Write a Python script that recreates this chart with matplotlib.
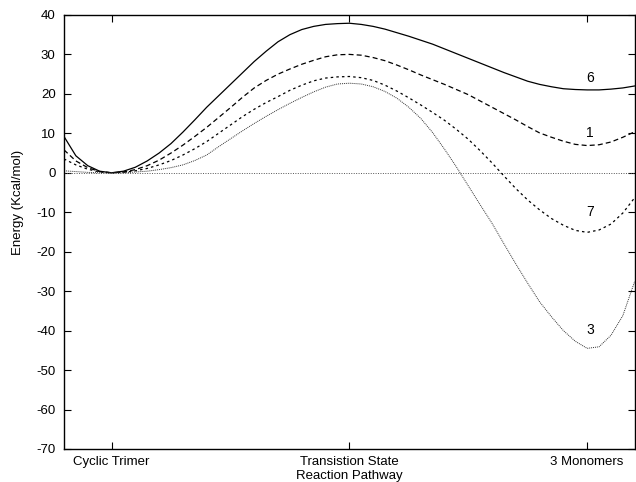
import numpy as np
import matplotlib.pyplot as plt

plt.rcParams['font.family'] = ['Liberation Sans', 'DejaVu Sans']
plt.rcParams['axes.unicode_minus'] = False

# reaction coordinate (0 = cyclic trimer, 1 = transition state, 2 = 3 monomers)
x = [-0.2, -0.15, -0.1, -0.05, 0.0, 0.05, 0.1, 0.15, 0.2, 0.25, 0.3, 0.35,
     0.4, 0.45, 0.5, 0.55, 0.6, 0.65, 0.7, 0.75, 0.8, 0.85, 0.9, 0.95,
     1.0, 1.05, 1.1, 1.15, 1.2, 1.25, 1.3, 1.35, 1.4, 1.45, 1.5, 1.55,
     1.6, 1.65, 1.7, 1.75, 1.8, 1.85, 1.9, 1.95, 2.0, 2.05, 2.1, 2.15, 2.2]

# energies (kcal/mol)
e6 = [9.2, 4.3, 1.8, 0.4, 0.0, 0.4, 1.4, 3.0, 5.0, 7.4, 10.3, 13.4,
      16.6, 19.5, 22.4, 25.3, 28.2, 30.8, 33.2, 35.0, 36.3, 37.1, 37.6, 37.8,
      37.9, 37.6, 37.1, 36.4, 35.5, 34.6, 33.6, 32.6, 31.4, 30.2, 29.0, 27.8,
      26.6, 25.4, 24.3, 23.2, 22.4, 21.8, 21.3, 21.1, 21.0, 21.0, 21.2, 21.5, 22.0]
e1 = [5.8, 3.0, 1.3, 0.3, 0.0, 0.2, 0.8, 1.8, 3.2, 5.0, 7.0, 9.2,
      11.5, 14.0, 16.5, 19.1, 21.5, 23.4, 25.0, 26.3, 27.5, 28.5, 29.4, 29.9,
      30.0, 29.8, 29.2, 28.4, 27.3, 26.1, 24.8, 23.6, 22.4, 21.1, 19.8, 18.2,
      16.6, 15.0, 13.4, 11.7, 10.1, 9.0, 8.0, 7.2, 6.9, 7.1, 7.8, 9.0, 10.4]
e7 = [3.5, 2.0, 0.9, 0.2, 0.0, 0.1, 0.5, 1.1, 2.0, 3.1, 4.5, 6.1,
      7.9, 10.0, 12.1, 14.2, 16.1, 17.8, 19.3, 20.9, 22.2, 23.3, 24.0, 24.3,
      24.4, 24.1, 23.4, 22.2, 20.7, 19.0, 17.2, 15.3, 13.3, 11.0, 8.5, 5.6,
      2.5, -0.8, -4.0, -6.9, -9.4, -11.6, -13.3, -14.6, -15.1, -14.5, -13.0, -10.2, -6.3]
e3 = [0.5, 0.3, 0.1, 0.0, 0.0, 0.0, 0.2, 0.4, 0.8, 1.3, 2.0, 3.1,
      4.5, 6.6, 8.6, 10.6, 12.5, 14.3, 16.0, 17.6, 19.1, 20.5, 21.7, 22.5,
      22.7, 22.5, 21.8, 20.6, 18.9, 16.6, 13.8, 10.2, 6.0, 1.5, -3.3, -8.1,
      -12.8, -18.0, -23.1, -28.0, -32.7, -36.5, -40.0, -42.7, -44.5, -44.1, -41.2, -36.2, -27.5]

labels = ['6', '1', '7', '3']
label_y = [24.0, 10.0, -9.9, -39.8]
stage_pos = [0, 1, 2]
stage_names = ['Cyclic Trimer', 'Transistion State', '3 Monomers']

fig = plt.figure(figsize=(6.36, 4.82), dpi=100)
ax = fig.add_axes([0.1006, 0.0685, 0.8974, 0.9005])

lw = 0.9
ax.axhline(0, color='#555555', lw=0.7, linestyle=(0, (1, 1.5)))
ax.plot(x, e6, color='black', lw=lw, linestyle='-')
ax.plot(x, e1, color='black', lw=lw, linestyle=(0, (4, 2.5)))
ax.plot(x, e7, color='black', lw=lw, linestyle=(0, (2, 2.5)))
ax.plot(x, e3, color='#333333', lw=0.7, linestyle=(0, (1, 1)))

for lab, ly in zip(labels, label_y):
    ax.text(2.013, ly, lab, ha='center', va='center', fontsize=10)

ax.set_xlim(-0.2, 2.2)
ax.set_ylim(-70, 40)
ax.set_yticks(np.arange(-70, 41, 10))
ax.set_xticks(stage_pos)
ax.set_xticklabels(stage_names)
ax.tick_params(direction='in', top=True, right=True, length=5, width=0.8,
               labelsize=9.5, pad=6)
ax.tick_params(axis='x', pad=5)
for s in ax.spines.values():
    s.set_linewidth(1.0)

fig.text(18 / 636, 1 - 202 / 482, 'Energy (Kcal/mol)', rotation=90,
         ha='center', va='center', fontsize=9.5)
fig.text(349 / 636, 1 - 476 / 482, 'Reaction Pathway', ha='center',
         va='center', fontsize=9.5)

fig.savefig('out.png', dpi=100)
